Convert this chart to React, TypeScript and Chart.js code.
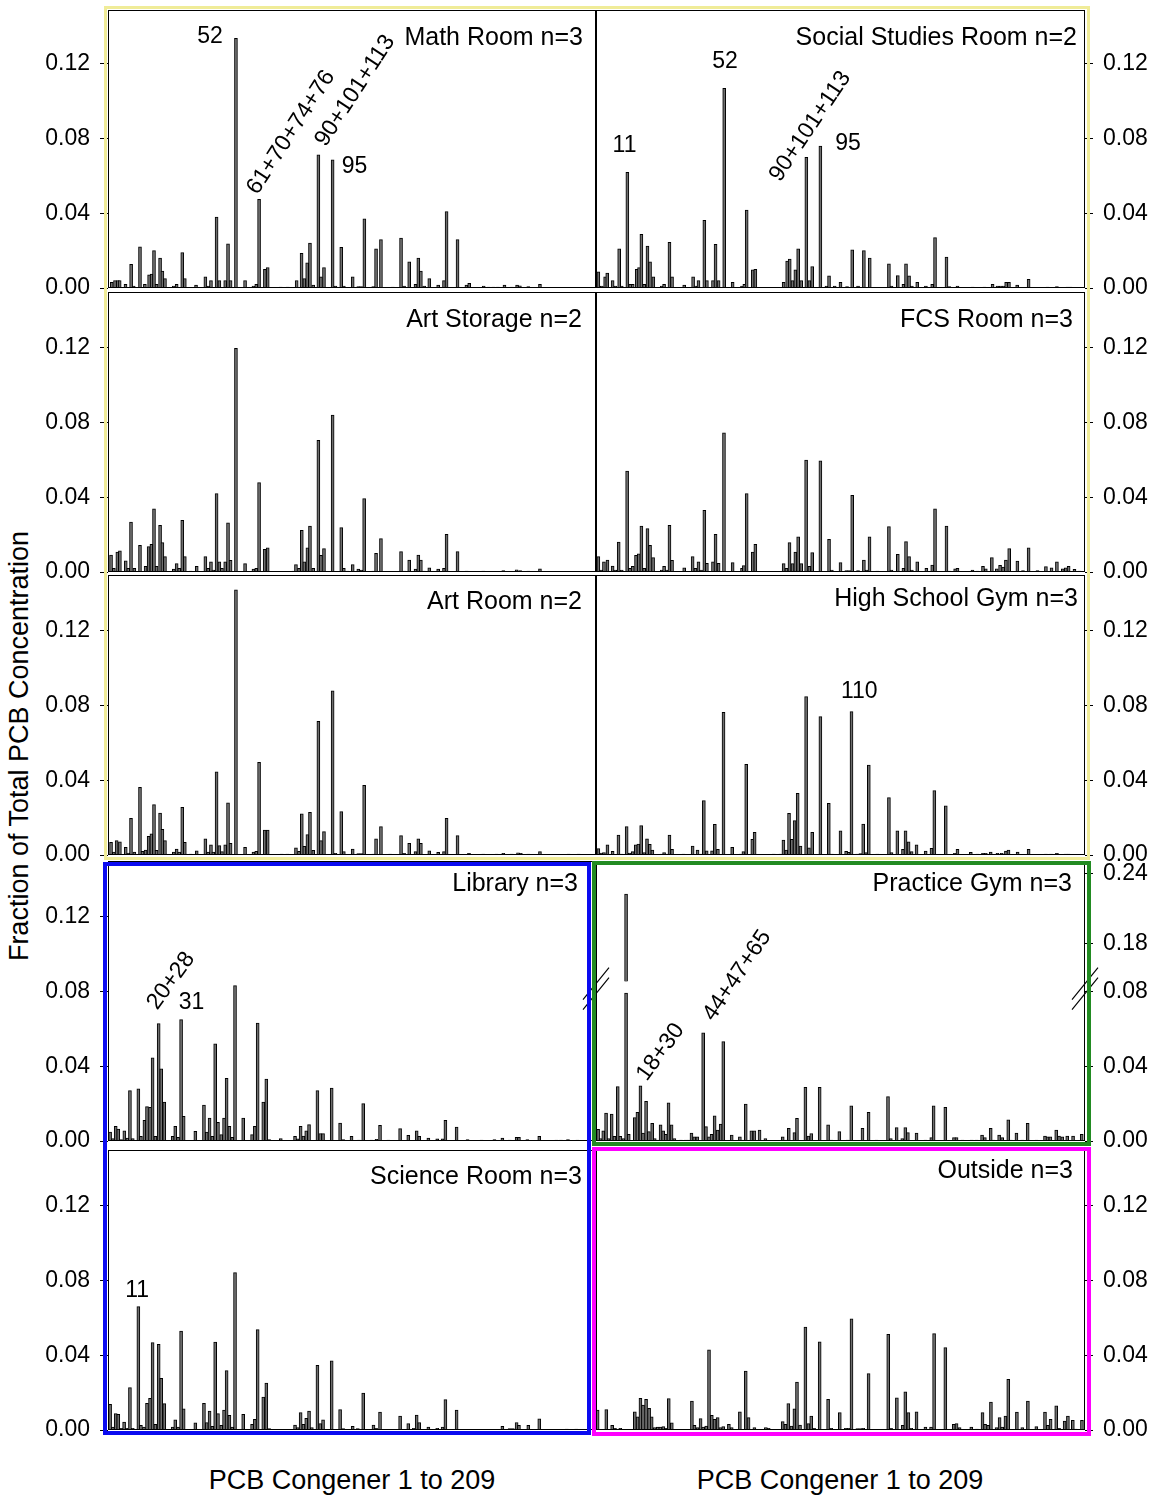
import React, { useEffect, useRef } from "react";
import { Chart, registerables } from "chart.js";

Chart.register(...registerables);

const FONT = '"Liberation Sans", Arial, Helvetica, sans-serif';
const CONGENER_SLOTS = 209;
const yTickValues = [0, 0.04, 0.08, 0.12];
const gymLowerTickValues = [0, 0.04, 0.08];
const gymUpperTickValues = [0.18, 0.24];
const xAxisTitle = "PCB Congener 1 to 209";
const yAxisTitle = "Fraction of Total PCB Concentration";

// [congener slot along the x axis, fraction of total PCB]
const mathRoom: [number, number][] = [
  [1.6, 0.003], [3, 0.004], [4.2, 0.004], [5, 0.004], [7.5, 0.002], [9.9, 0.0127], [11, 0.001], [13.7, 0.022], [15.8, 0.002],
  [17.6, 0.007], [18.7, 0.0075], [19.7, 0.02], [20.8, 0.002], [22.3, 0.016], [23.3, 0.009], [24.4, 0.005], [28.2, 0.001],
  [29.4, 0.002], [31.8, 0.019], [32.9, 0.005], [37.7, 0.0015], [41.7, 0.006], [43, 0.001], [44.1, 0.004], [46.5, 0.038],
  [47.7, 0.004], [50.2, 0.004], [51.4, 0.0236], [52.5, 0.004], [54.8, 0.1337], [58.7, 0.004], [62.3, 0.001], [63.5, 0.002],
  [64.7, 0.0475], [67.2, 0.01], [68.4, 0.011], [74, 0.0005], [77, 0.0005], [80.8, 0.004], [82.9, 0.0186], [84.1, 0.005],
  [85.3, 0.0135], [86.5, 0.024], [87.9, 0.0015], [90.1, 0.0713], [91.2, 0.006], [92.5, 0.011], [96.2, 0.0686], [97.4, 0.001],
  [99.9, 0.0218], [101, 0.001], [104.8, 0.006], [107.2, 0.0008], [108.4, 0.0008], [109.8, 0.037], [113.6, 0.0008],
  [114.8, 0.021], [116.9, 0.026], [122, 0.0005], [125.5, 0.0268], [126.8, 0.001], [129, 0.014], [131.7, 0.002], [132.9, 0.016],
  [134, 0.009], [135.4, 0.001], [137.6, 0.005], [141.4, 0.0015], [143.9, 0.004], [145, 0.041], [149.7, 0.026], [153.5, 0.0015],
  [154.7, 0.0025], [160.9, 0.001], [163, 0.0005], [165, 0.0005], [167, 0.0005], [169.8, 0.0015], [173, 0.0005], [175.2, 0.0015],
  [176.4, 0.0012], [180, 0.0008], [185, 0.002],
];

const socialStudiesRoom: [number, number][] = [
  [1, 0.0087], [2.5, 0.001], [3.9, 0.006], [4.8, 0.008], [7.1, 0.004], [8.3, 0.001], [9.9, 0.021], [11, 0.001], [13.4, 0.062],
  [14.6, 0.002], [15.7, 0.002], [17.4, 0.01], [18.4, 0.011], [19.4, 0.0288], [20.6, 0.002], [22, 0.0225], [23.1, 0.014],
  [24.5, 0.006], [28.1, 0.001], [29.1, 0.002], [31.4, 0.0245], [32.5, 0.006], [37.7, 0.0015], [41.5, 0.006], [42.5, 0.001],
  [43.8, 0.004], [46.3, 0.0363], [47.4, 0.004], [50, 0.004], [51.1, 0.0234], [52.4, 0.004], [54.8, 0.107], [58.4, 0.003],
  [62.4, 0.001], [63.4, 0.002], [64.4, 0.0418], [67, 0.0097], [68.1, 0.01], [80.2, 0.003], [81.7, 0.0144], [82.8, 0.0155],
  [84, 0.004], [85.2, 0.0097], [86.4, 0.021], [87.7, 0.004], [89.9, 0.07], [91.2, 0.004], [92.4, 0.0115], [95.9, 0.076],
  [98.5, 0.001], [99.6, 0.0065], [102, 0.001], [104.5, 0.003], [107.3, 0.0008], [109.5, 0.0204], [112, 0.001], [114.5, 0.02],
  [117, 0.016], [125.2, 0.013], [126.3, 0.001], [129, 0.0066], [131.4, 0.002], [132.5, 0.013], [133.8, 0.0065], [135, 0.001],
  [137.3, 0.003], [141, 0.001], [143.7, 0.002], [144.9, 0.027], [149.8, 0.0165], [151, 0.0008], [154.5, 0.001], [161, 0.0005],
  [166, 0.0005], [169.5, 0.002], [171.6, 0.001], [173, 0.001], [174.2, 0.001], [175.3, 0.003], [176.5, 0.003], [180, 0.0015],
  [184.9, 0.0047], [193, 0.0005], [197, 0.0008], [201.5, 0.0005], [202.8, 0.0005],
];

const artStorage: [number, number][] = [
  [1.3, 0.0091], [2.5, 0.002], [4, 0.0107], [5.1, 0.0113], [7.6, 0.006], [8.7, 0.002], [9.85, 0.0268], [11.3, 0.002],
  [13.7, 0.0143], [16.1, 0.003], [17.4, 0.0136], [18.6, 0.0148], [19.7, 0.0339], [20.8, 0.003], [22.3, 0.025], [23.3, 0.0157],
  [24.4, 0.0082], [28.2, 0.0015], [29.4, 0.0045], [30.5, 0.002], [31.8, 0.0277], [32.9, 0.0082], [35.4, 0.0005], [38, 0.003],
  [41.7, 0.0082], [42.9, 0.002], [44.1, 0.0054], [45.1, 0.001], [46.5, 0.042], [47.7, 0.0055], [48.8, 0.002], [50.2, 0.0054],
  [51.4, 0.0264], [52.5, 0.0063], [54.8, 0.1198], [58.7, 0.0045], [62.3, 0.0015], [63.5, 0.002], [64.7, 0.0479], [67.1, 0.0121],
  [68.4, 0.013], [79.4, 0.0005], [80.5, 0.004], [81.8, 0.002], [83, 0.0223], [84.1, 0.0055], [85.4, 0.013], [86.5, 0.0246],
  [87.9, 0.002], [90.1, 0.0705], [91.2, 0.0089], [92.5, 0.0125], [96.2, 0.0841], [99.9, 0.0238], [101, 0.002], [102.5, 0.0005],
  [104.8, 0.004], [107.2, 0.0015], [108.5, 0.001], [109.7, 0.0393], [113.6, 0.0005], [114.8, 0.01], [116.9, 0.0179],
  [125.5, 0.0109], [126.8, 0.0005], [129, 0.0064], [131.7, 0.0015], [132.9, 0.0091], [134, 0.0064], [135.3, 0.0005],
  [137.6, 0.0023], [141.4, 0.0015], [143.9, 0.002], [145, 0.0202], [149.7, 0.0109], [153.6, 0.0005], [160.7, 0.0005],
  [169.3, 0.0008], [175, 0.0012], [176.5, 0.0008], [180, 0.0005], [185, 0.0017],
];

const fcsRoom: [number, number][] = [
  [1, 0.0082], [2.2, 0.001], [3.4, 0.0055], [4.9, 0.0064], [7.1, 0.0032], [8.2, 0.001], [9.7, 0.016], [11, 0.001],
  [13.3, 0.0541], [14.5, 0.002], [15.7, 0.003], [17.1, 0.0089], [18.3, 0.0098], [19.4, 0.0246], [20.6, 0.002], [22, 0.0232],
  [23.1, 0.0143], [24.4, 0.0077], [28.1, 0.001], [29.1, 0.003], [30.2, 0.001], [31.4, 0.025], [32.5, 0.0063], [37.7, 0.0023],
  [41.3, 0.0082], [42.5, 0.002], [43.8, 0.0055], [44.9, 0.001], [46.3, 0.033], [47.4, 0.0046], [50, 0.0054], [51.1, 0.0202],
  [52.4, 0.0046], [54.7, 0.0746], [58.4, 0.005], [62.4, 0.002], [63.2, 0.0035], [64.4, 0.042], [67, 0.0107], [68.1, 0.0148],
  [80.2, 0.0045], [81.4, 0.002], [82.7, 0.0157], [84, 0.0045], [85.2, 0.0107], [86.4, 0.0189], [87.7, 0.0045], [89.8, 0.06],
  [91.2, 0.003], [92.4, 0.0104], [95.9, 0.0595], [99.6, 0.0175], [100.8, 0.001], [104.5, 0.005], [107, 0.0008], [108.2, 0.0008],
  [109.5, 0.0411], [112, 0.0008], [114.5, 0.0064], [115.7, 0.001], [116.9, 0.0189], [120.2, 0.0005], [125.2, 0.0243],
  [126.3, 0.001], [129, 0.0095], [131.4, 0.002], [132.5, 0.0163], [133.8, 0.0082], [135, 0.001], [137.3, 0.0054], [141.2, 0.002],
  [143.7, 0.0037], [144.9, 0.0339], [149.8, 0.0246], [151, 0.0005], [153.5, 0.0017], [154.5, 0.002], [160.9, 0.001],
  [163, 0.0005], [165.4, 0.003], [166.6, 0.0017], [169.2, 0.0077], [171.3, 0.0017], [172.7, 0.0036], [174, 0.0027],
  [175.2, 0.0064], [176.6, 0.0125], [180.1, 0.0059], [182.5, 0.0008], [184.9, 0.013], [188.7, 0.0008], [192.3, 0.0029],
  [194.7, 0.0023], [197, 0.0054], [199.5, 0.0017], [200.8, 0.0023], [202, 0.003], [204.5, 0.0014], [206.6, 0.0005],
];

const artRoom: [number, number][] = [
  [1.3, 0.0068], [2.5, 0.0015], [3.7, 0.0077], [5.1, 0.0071], [7.6, 0.0041], [8.7, 0.001], [9.85, 0.0196], [11.3, 0.0015],
  [13.7, 0.0363], [14.8, 0.002], [16.1, 0.0027], [17.4, 0.01], [18.6, 0.0113], [19.7, 0.027], [20.8, 0.0025], [22.3, 0.0225],
  [23.3, 0.0138], [24.4, 0.0077], [28.2, 0.0015], [29.4, 0.0032], [30.5, 0.0015], [31.8, 0.0255], [32.9, 0.0068],
  [35.4, 0.0005], [38, 0.0023], [41.7, 0.0086], [42.9, 0.0015], [44.1, 0.0054], [45.1, 0.0015], [46.5, 0.0446], [47.7, 0.005],
  [48.8, 0.0018], [50.2, 0.0054], [51.4, 0.028], [52.5, 0.0063], [54.8, 0.1421], [58.7, 0.0041], [62.3, 0.0015], [63.5, 0.002],
  [64.7, 0.0496], [67.1, 0.0134], [68.4, 0.0134], [74.4, 0.0005], [76.8, 0.0005], [80.5, 0.0038], [81.8, 0.002], [83, 0.022],
  [84.1, 0.0046], [85.4, 0.0109], [86.5, 0.0229], [87.9, 0.0025], [90.1, 0.0716], [91.2, 0.0077], [92.5, 0.0125],
  [96.2, 0.0879], [97.4, 0.0009], [99.9, 0.0232], [101, 0.0018], [104.8, 0.0032], [107.2, 0.0008], [108.5, 0.0008],
  [109.7, 0.0373], [113.6, 0.0005], [114.8, 0.0086], [116.9, 0.0152], [120.8, 0.0005], [125.5, 0.0104], [126.8, 0.0009],
  [129, 0.0063], [131.7, 0.0018], [132.9, 0.0086], [134, 0.0063], [137.6, 0.0023], [141.4, 0.0014], [143.9, 0.0018],
  [145, 0.0196], [149.7, 0.0104], [154.6, 0.0009], [160.7, 0.0005], [166.4, 0.0005], [169.3, 0.0009], [172.9, 0.0005],
  [175.6, 0.0012], [176.8, 0.0009], [180, 0.0005], [185, 0.0018], [197.3, 0.0005], [201.6, 0.0005],
];

const highSchoolGym: [number, number][] = [
  [1, 0.0034], [2.2, 0.001], [3.4, 0.0013], [4.9, 0.0054], [7.1, 0.002], [9.6, 0.0107], [10.8, 0.0005], [13.1, 0.0152],
  [14.4, 0.001], [15.7, 0.0018], [17, 0.0054], [18.1, 0.0059], [19.3, 0.0157], [20.6, 0.0013], [21.8, 0.0086], [23, 0.0057],
  [24.1, 0.0027], [28.1, 0.0005], [29.1, 0.0013], [30.2, 0.0005], [31.4, 0.0107], [32.5, 0.003], [37.4, 0.0005], [41.3, 0.0048],
  [43.4, 0.0027], [45, 0.0005], [46.1, 0.0291], [47.3, 0.0023], [49.6, 0.0023], [50.8, 0.0164], [52.1, 0.003], [54.5, 0.0764],
  [58.2, 0.0041], [61.9, 0.0005], [63, 0.0018], [64.2, 0.0486], [66.8, 0.0084], [67.8, 0.0121], [76, 0.0005], [78.8, 0.0005],
  [80.1, 0.008], [81.3, 0.0027], [82.5, 0.0223], [83.7, 0.0084], [84.9, 0.0184], [86.2, 0.033], [87.4, 0.0048], [89.8, 0.0848],
  [91, 0.0039], [92.4, 0.0121], [95.9, 0.0741], [99.5, 0.0277], [100.8, 0.0005], [104.5, 0.0129], [106.9, 0.002], [108, 0.0014],
  [109.2, 0.0768], [111.6, 0.0005], [113, 0.0008], [114.2, 0.0166], [115.4, 0.0013], [116.6, 0.0482], [120.2, 0.0005],
  [125.2, 0.0307], [126.3, 0.0013], [128.8, 0.013], [131.2, 0.003], [132.3, 0.0129], [133.6, 0.0071], [134.9, 0.0018],
  [137, 0.0054], [140.9, 0.0021], [143.4, 0.0036], [144.6, 0.0345], [149.5, 0.0264], [153.4, 0.0009], [154.5, 0.003],
  [160.2, 0.0014], [163, 0.0005], [165.4, 0.0009], [166.6, 0.0009], [168.7, 0.0016], [171.6, 0.0009], [173.4, 0.0009],
  [175.2, 0.0021], [176.3, 0.0027], [180.2, 0.0016], [184.9, 0.003], [192.3, 0.0005], [194.5, 0.0005], [197, 0.0009],
  [200.8, 0.0005], [202, 0.0005],
];

const library: [number, number][] = [
  [0.9, 0.0048], [2.1, 0.0013], [3.3, 0.0079], [4.4, 0.0064], [5.6, 0.0007], [7, 0.0055], [8.3, 0.0016], [9.4, 0.027],
  [10.6, 0.0013], [13, 0.0279], [14.1, 0.0025], [15.6, 0.0111], [16.7, 0.0184], [18, 0.018], [19.1, 0.0445], [20.3, 0.0025],
  [21.7, 0.0629], [22.8, 0.0386], [24.1, 0.0209], [27.7, 0.0025], [28.8, 0.0079], [30, 0.002], [31.3, 0.065], [32.4, 0.0132],
  [37.4, 0.0052], [41.1, 0.0193], [42.3, 0.0048], [43.5, 0.0123], [44.7, 0.0025], [45.9, 0.052], [47.1, 0.01], [48.5, 0.0034],
  [49.7, 0.0123], [50.8, 0.0336], [52, 0.0079], [53.2, 0.002], [54.4, 0.0832], [57.9, 0.0123], [61.7, 0.0034], [62.9, 0.0079],
  [64.1, 0.0632], [66.5, 0.0209], [67.8, 0.0332], [69, 0.0007], [74, 0.0013], [80.1, 0.0025], [81.3, 0.0011], [82.5, 0.0079],
  [83.7, 0.0027], [84.9, 0.0055], [86.1, 0.0088], [89.7, 0.027], [90.9, 0.004], [92.1, 0.004], [95.8, 0.0284], [99.4, 0.0096],
  [100.7, 0.0007], [104.3, 0.0025], [107.5, 0.0005], [109.3, 0.02], [112.9, 0.0005], [115, 0.0009], [116.5, 0.0084],
  [120.1, 0.0005], [125.1, 0.0066], [128.6, 0.003], [132.2, 0.0055], [133.3, 0.0025], [137.2, 0.0016], [141, 0.0011],
  [143.3, 0.0011], [144.5, 0.0111], [149.3, 0.0075], [154, 0.0007], [160, 0.0005], [165.5, 0.0007], [168.9, 0.0016],
  [172.1, 0.0005], [175, 0.0019], [176, 0.0019], [179.6, 0.0007], [184.7, 0.0025], [192, 0.0005], [194, 0.0005], [197, 0.0007],
  [201, 0.0005],
];

const practiceGym: [number, number][] = [
  [0.9, 0.0063], [2, 0.0013], [3.1, 0.0054], [4.3, 0.015], [5.4, 0.0013], [6.7, 0.0144], [7.9, 0.0025], [9.3, 0.0292],
  [10.4, 0.0025], [11.7, 0.0013], [12.85, 0.0793], [14, 0.0036], [16.6, 0.0126], [17.7, 0.0153], [19, 0.0295], [20.1, 0.0043],
  [21.4, 0.0213], [22.6, 0.005], [24, 0.0094], [25.1, 0.0013], [26.3, 0.0005], [27.6, 0.0086], [28.7, 0.0054], [29.8, 0.0036],
  [31, 0.0204], [32.3, 0.0086], [33.5, 0.0013], [36.3, 0.0005], [38.4, 0.0005], [39.7, 0.0005], [40.8, 0.0043], [42, 0.0023],
  [43.3, 0.0022], [45.8, 0.058], [47, 0.0077], [48.3, 0.0022], [49.4, 0.0036], [50.7, 0.0135], [52, 0.0058], [53.3, 0.009],
  [54.4, 0.0532], [58, 0.0032], [61.5, 0.0022], [62.8, 0.0005], [64, 0.0198], [66.4, 0.0054], [67.7, 0.0054], [69.9, 0.0058],
  [72.4, 0.0013], [79.8, 0.0022], [81.2, 0.0005], [82.4, 0.0068], [84.8, 0.0045], [85.9, 0.0121], [89.5, 0.0288],
  [90.8, 0.0027], [92, 0.004], [95.6, 0.0288], [99.2, 0.0086], [100.5, 0.0005], [104, 0.005], [107.6, 0.0005], [109.1, 0.0189],
  [113.9, 0.0068], [116.5, 0.0153], [119.9, 0.0005], [124.8, 0.0238], [126, 0.0013], [128.5, 0.0072], [130.9, 0.0013],
  [132.2, 0.0072], [133.3, 0.0045], [137, 0.0043], [140.8, 0.0005], [143.3, 0.0018], [144.3, 0.0189], [149.3, 0.018],
  [153, 0.0018], [154.1, 0.0018], [156.6, 0.0005], [160.6, 0.0005], [162.7, 0.0005], [165, 0.0032], [166.2, 0.0018],
  [168.7, 0.0068], [169.9, 0.0005], [172.3, 0.0032], [173.6, 0.0018], [176.2, 0.0114], [177.3, 0.0005], [179.7, 0.0043],
  [182.2, 0.0005], [184.5, 0.0095], [188.3, 0.0005], [191.9, 0.0027], [193, 0.0022], [194.2, 0.0022], [196.7, 0.0058],
  [197.9, 0.0027], [199.3, 0.0022], [201.4, 0.0027], [203.9, 0.0027], [207.6, 0.0036],
];

// part of the congener 11 bar above the axis break: [slot, from, to]
const practiceGymAboveBreak: [number, number, number][] = [[12.85, 0.147, 0.222]];

const scienceRoom: [number, number][] = [
  [0.9, 0.0138], [2.1, 0.0016], [3.3, 0.0088], [4.4, 0.0084], [5.6, 0.0009], [6.9, 0.0043], [8, 0.0009], [9.4, 0.0227],
  [10.6, 0.0009], [13, 0.0661], [14.1, 0.0025], [15.4, 0.0016], [16.7, 0.0143], [18, 0.017], [19.1, 0.0468], [20.3, 0.003],
  [21.7, 0.0459], [22.8, 0.0277], [24.1, 0.0141], [27.7, 0.0016], [28.8, 0.0054], [30, 0.0016], [31.3, 0.053], [32.4, 0.0114],
  [37.4, 0.0039], [41.1, 0.0143], [42.3, 0.004], [43.5, 0.0102], [44.7, 0.002], [45.9, 0.0471], [47.1, 0.0088], [48.5, 0.0025],
  [49.7, 0.0107], [50.8, 0.0318], [52, 0.0079], [53.2, 0.0016], [54.4, 0.0843], [57.9, 0.0084], [61.7, 0.003], [62.9, 0.0057],
  [64.1, 0.0538], [66.5, 0.0177], [67.8, 0.0252], [69, 0.0007], [80.1, 0.0027], [81.3, 0.0013], [82.5, 0.0093], [83.7, 0.003],
  [84.9, 0.0063], [86.1, 0.0102], [87.3, 0.0013], [89.7, 0.0346], [90.9, 0.0034], [92.1, 0.0055], [95.8, 0.037],
  [99.4, 0.0109], [100.7, 0.0007], [104.8, 0.002], [107, 0.0007], [109.3, 0.0198], [113.7, 0.0027], [114.8, 0.0009],
  [116.5, 0.0096], [125.1, 0.0075], [128.6, 0.0034], [131, 0.0009], [132.2, 0.008], [133.3, 0.004], [137.2, 0.0016],
  [141, 0.0009], [143.3, 0.0016], [144.5, 0.0163], [149.3, 0.0107], [154, 0.0004], [168.9, 0.002], [172, 0.0007],
  [173.4, 0.0007], [175, 0.004], [176, 0.0025], [180, 0.0025], [184.7, 0.006], [196.5, 0.0005], [200.5, 0.0005],
];

const outside: [number, number][] = [
  [0.7, 0.0107], [4.4, 0.011], [6.9, 0.0025], [8.1, 0.0009], [10.4, 0.0009], [11.6, 0.0004], [16.6, 0.0098], [17.8, 0.0071],
  [19, 0.017], [20.1, 0.0134], [21.4, 0.0164], [22.7, 0.0116], [23.8, 0.0071], [25.1, 0.0013], [26.4, 0.0016], [27.5, 0.0016],
  [28.8, 0.0018], [29.9, 0.0009], [31.1, 0.0168], [32.4, 0.0039], [41, 0.0155], [42.1, 0.0025], [43.4, 0.0013], [44.7, 0.0061],
  [45.8, 0.0016], [47.1, 0.0021], [48.3, 0.043], [49.5, 0.0079], [50.7, 0.0057], [52, 0.0066], [53.2, 0.0013], [54.4, 0.0018],
  [56.8, 0.003], [58, 0.0013], [61.5, 0.0098], [64, 0.0316], [65.2, 0.0066], [67.7, 0.0013], [72.6, 0.0013], [73.8, 0.0009],
  [79.8, 0.0045], [81, 0.0031], [82.2, 0.0141], [83.5, 0.0021], [84.8, 0.0114], [85.9, 0.0257], [87.2, 0.0027], [89.5, 0.0552],
  [90.8, 0.0034], [92, 0.0075], [93.2, 0.0009], [95.6, 0.0473], [99.2, 0.0164], [100.5, 0.0009], [104.2, 0.0093],
  [106.8, 0.0009], [108, 0.0009], [109.2, 0.0596], [111.7, 0.0007], [113, 0.0007], [114.2, 0.0009], [116.5, 0.0302],
  [120, 0.0004], [124.9, 0.0513], [126.1, 0.0009], [128.6, 0.0173], [131.1, 0.0025], [132.2, 0.0204], [133.5, 0.0093],
  [134.7, 0.0009], [137, 0.0098], [140.8, 0.0016], [143.2, 0.0016], [144.5, 0.0516], [149.3, 0.0441], [152.9, 0.003],
  [154.1, 0.0034], [155.4, 0.0013], [160.4, 0.0016], [162.8, 0.0005], [165.2, 0.0093], [166.3, 0.003], [167.6, 0.0025],
  [168.8, 0.015], [171.2, 0.0013], [172.5, 0.0066], [173.6, 0.0016], [175, 0.0075], [176.2, 0.0271], [179.9, 0.0096],
  [182.2, 0.0013], [184.6, 0.0155], [188.2, 0.0018], [191.9, 0.0096], [193.1, 0.0025], [194.3, 0.0057], [196.7, 0.0129],
  [197.9, 0.0009], [200.3, 0.0048], [201.7, 0.0075], [203.8, 0.0052], [205, 0.0005], [207.7, 0.0052],
];

type Label = { text: string; slot: number; value: number; angle?: number };

type PanelSpec = {
  title: string;
  data: [number, number][];
  broken?: [number, number, number][];
  col: number;
  row: number;
  titleBaseline: number;
  titleInset: number;
  labels: Label[];
};

const panels: PanelSpec[] = [
  {
    title: "Math Room n=3", data: mathRoom, col: 0, row: 0, titleBaseline: 35, titleInset: 13,
    labels: [
      { text: "52", slot: 43.7, value: 0.1312 },
      { text: "61+70+74+76", slot: 64, value: 0.0495, angle: 57 },
      { text: "90+101+113", slot: 93.3, value: 0.0752, angle: 57 },
      { text: "95", slot: 105.6, value: 0.0614 },
    ],
  },
  {
    title: "Social Studies Room n=2", data: socialStudiesRoom, col: 1, row: 0, titleBaseline: 35, titleInset: 8,
    labels: [
      { text: "11", slot: 12.2, value: 0.073 },
      { text: "52", slot: 55.1, value: 0.1177 },
      { text: "90+101+113", slot: 78.6, value: 0.0564, angle: 56 },
      { text: "95", slot: 107.7, value: 0.0739 },
    ],
  },
  { title: "Art Storage n=2", data: artStorage, col: 0, row: 1, titleBaseline: 35, titleInset: 14, labels: [] },
  { title: "FCS Room n=3", data: fcsRoom, col: 1, row: 1, titleBaseline: 35, titleInset: 12, labels: [] },
  { title: "Art Room n=2", data: artRoom, col: 0, row: 2, titleBaseline: 34, titleInset: 14, labels: [] },
  {
    title: "High School Gym n=3", data: highSchoolGym, col: 1, row: 2, titleBaseline: 31, titleInset: 7,
    labels: [{ text: "110", slot: 112.5, value: 0.0841 }],
  },
  {
    title: "Library n=3", data: library, col: 0, row: 3, titleBaseline: 30, titleInset: 18,
    labels: [
      { text: "20+28", slot: 21.1, value: 0.0698, angle: 54 },
      { text: "31", slot: 35.8, value: 0.0709 },
    ],
  },
  {
    title: "Practice Gym n=3", data: practiceGym, broken: practiceGymAboveBreak, col: 1, row: 3, titleBaseline: 30, titleInset: 13,
    labels: [
      { text: "18+30", slot: 21.7, value: 0.0316, angle: 54 },
      { text: "44+47+65", slot: 50.2, value: 0.0637, angle: 56 },
    ],
  },
  {
    title: "Science Room n=3", data: scienceRoom, col: 0, row: 4, titleBaseline: 34, titleInset: 14,
    labels: [{ text: "11", slot: 12.5, value: 0.0714 }],
  },
  { title: "Outside n=3", data: outside, col: 1, row: 4, titleBaseline: 28, titleInset: 12, labels: [] },
];

// ---- layout (page pixels) ----
const PX_PER_UNIT = 1866.7;
const GYM_UP_MIN = 0.0103;
const GYM_UP_MAX = 0.2503;
const PAD_V = 28;
const TICK_LEN = 8;
const TICK_PAD = 10;
const TICK_FONT_SIZE = 23;
const COLS = [
  { plotLeft: 108, plotRight: 596, canvasLeft: 0, canvasWidth: 600 },
  { plotLeft: 596, plotRight: 1085, canvasLeft: 576, canvasWidth: 580 },
];
const ROWS = [
  { top: 10, bottom: 288 },
  { top: 292, bottom: 572 },
  { top: 575, bottom: 855 },
  { top: 861, bottom: 1141 },
  { top: 1150, bottom: 1430 },
];

function makeDecor(spec: PanelSpec) {
  return {
    id: "decor",
    afterDatasetsDraw(chart: any) {
      const { ctx, chartArea: a, scales } = chart;
      const xs = scales.x;
      const ys = scales.y;
      ctx.save();
      ctx.strokeStyle = "#000";
      ctx.lineWidth = 1;
      const l = Math.round(a.left), t = Math.round(a.top), r = Math.round(a.right), b = Math.round(a.bottom);
      ctx.strokeRect(l + 0.5, t + 0.5, r - l - 1, b - t - 1);

      ctx.fillStyle = "#000";
      ctx.font = `25px ${FONT}`;
      ctx.textAlign = "right";
      ctx.textBaseline = "alphabetic";
      ctx.fillText(spec.title, a.right - spec.titleInset, a.top + spec.titleBaseline);

      ctx.font = `23px ${FONT}`;
      for (const lab of spec.labels) {
        const px = xs.getPixelForValue(lab.slot);
        const py = ys.getPixelForValue(lab.value);
        ctx.save();
        ctx.translate(px, py);
        if (lab.angle) {
          ctx.rotate((-lab.angle * Math.PI) / 180);
          ctx.textAlign = "left";
        } else {
          ctx.textAlign = "center";
        }
        ctx.fillText(lab.text, 0, 0);
        ctx.restore();
      }

      if (spec.broken && scales.yUp) {
        const up = scales.yUp;
        // ticks and labels of the upper (broken) part of the right axis
        ctx.font = `${TICK_FONT_SIZE}px ${FONT}`;
        ctx.textAlign = "left";
        ctx.textBaseline = "middle";
        for (const v of gymUpperTickValues) {
          const py = Math.round(up.getPixelForValue(v)) + 0.5;
          ctx.beginPath();
          ctx.moveTo(a.right, py);
          ctx.lineTo(a.right + TICK_LEN, py);
          ctx.stroke();
          ctx.fillText(v.toFixed(2), a.right + TICK_LEN + TICK_PAD, py);
        }
        const yLow = ys.getPixelForValue(gymLowerTickValues[gymLowerTickValues.length - 1]);
        const yHigh = up.getPixelForValue(spec.broken[0][1]);
        const cy = (yLow + yHigh) / 2 + 2;
        ctx.lineWidth = 1.2;
        for (const bx of [a.left, a.right]) {
          for (const off of [-5, 5]) {
            ctx.beginPath();
            ctx.moveTo(bx - 13, cy + 16 + off);
            ctx.lineTo(bx + 13, cy - 16 + off);
            ctx.stroke();
          }
        }
      }
      ctx.restore();
    },
  };
}

function Panel({ spec }: { spec: PanelSpec }) {
  const ref = useRef<HTMLCanvasElement | null>(null);
  const col = COLS[spec.col];
  const row = ROWS[spec.row];
  const isLeft = spec.col === 0;
  const canvasTop = row.top - PAD_V;
  const canvasHeight = row.bottom - row.top + 2 * PAD_V;

  useEffect(() => {
    const canvas = ref.current;
    if (!canvas) return;
    const yMax = (row.bottom - row.top) / PX_PER_UNIT;
    const tickStyle = {
      color: "#000",
      font: { family: FONT, size: TICK_FONT_SIZE },
      padding: TICK_PAD,
      autoSkip: false,
      callback: (v: any) => Number(v).toFixed(2),
    };
    const gridStyle = { display: true, drawOnChartArea: false, drawTicks: true, tickLength: TICK_LEN, color: "#000", lineWidth: 1 };
    const barStyle = {
      backgroundColor: "#6e6e6e",
      borderColor: "#000000",
      borderWidth: 1,
      barThickness: 3,
      grouped: false,
      borderSkipped: "start",
    };
    const axisWidth = isLeft ? col.plotLeft - col.canvasLeft : col.canvasLeft + col.canvasWidth - col.plotRight;
    const datasets: any[] = [
      { ...barStyle, data: spec.data.map(([x, y]) => ({ x, y })), yAxisID: "y" },
    ];
    const scales: any = {
      x: { type: "linear", min: 0, max: CONGENER_SLOTS, display: false, offset: false },
      y: {
        type: "linear",
        position: isLeft ? "left" : "right",
        min: 0,
        max: yMax,
        afterBuildTicks: (s: any) => {
          s.ticks = (spec.broken ? gymLowerTickValues : yTickValues).map((v) => ({ value: v }));
        },
        afterFit: (s: any) => {
          s.width = axisWidth;
        },
        ticks: tickStyle,
        grid: gridStyle,
        border: { display: false },
      },
    };
    if (spec.broken) {
      datasets.push({
        ...barStyle,
        data: spec.broken.map(([x, from, to]) => ({ x, y: [from, to] })),
        yAxisID: "yUp",
      });
      scales.yUp = { type: "linear", position: "right", min: GYM_UP_MIN, max: GYM_UP_MAX, display: false };
    }
    const chart = new Chart(canvas, {
      type: "bar",
      data: { datasets },
      options: {
        responsive: false,
        maintainAspectRatio: false,
        animation: false,
        devicePixelRatio: 1,
        layout: {
          padding: {
            left: isLeft ? 0 : col.plotLeft - col.canvasLeft,
            right: isLeft ? col.canvasLeft + col.canvasWidth - col.plotRight : 0,
            top: PAD_V,
            bottom: PAD_V,
          },
        },
        plugins: { legend: { display: false }, tooltip: { enabled: false } },
        scales,
      } as any,
      plugins: [makeDecor(spec)],
    });
    return () => chart.destroy();
  }, []);

  return (
    <canvas
      ref={ref}
      width={col.canvasWidth}
      height={canvasHeight}
      style={{
        position: "absolute",
        left: col.canvasLeft,
        top: canvasTop,
        width: col.canvasWidth,
        height: canvasHeight,
        zIndex: 1,
      }}
    />
  );
}

const frames = [
  { left: 104, top: 6, width: 986, height: 854, border: 3, color: "#f0ec98" },
  { left: 103, top: 862, width: 488, height: 573, border: 4, color: "#0a0af0" },
  { left: 592, top: 861, width: 499, height: 285, border: 4, color: "#228b22" },
  { left: 592, top: 1147, width: 499, height: 289, border: 4, color: "#ff00ff" },
];

export default function App() {
  return (
    <div
      style={{
        position: "absolute",
        left: 0,
        top: 0,
        width: 1156,
        height: 1500,
        background: "#ffffff",
        overflow: "hidden",
        fontFamily: FONT,
      }}
    >
      {panels.map((p) => (
        <Panel key={p.title} spec={p} />
      ))}
      {frames.map((f, i) => (
        <div
          key={i}
          style={{
            position: "absolute",
            left: f.left,
            top: f.top,
            width: f.width,
            height: f.height,
            boxSizing: "border-box",
            border: `${f.border}px solid ${f.color}`,
            zIndex: 2,
            pointerEvents: "none",
          }}
        />
      ))}
      <div
        style={{
          position: "absolute",
          left: 19,
          top: 746,
          transform: "translate(-50%, -50%) rotate(-90deg)",
          whiteSpace: "nowrap",
          fontSize: 27,
          color: "#000",
          lineHeight: 1,
        }}
      >
        {yAxisTitle}
      </div>
      {[352, 840].map((cx) => (
        <div
          key={cx}
          style={{
            position: "absolute",
            left: cx,
            top: 1480,
            transform: "translate(-50%, -50%)",
            whiteSpace: "nowrap",
            fontSize: 27,
            color: "#000",
            lineHeight: 1,
          }}
        >
          {xAxisTitle}
        </div>
      ))}
    </div>
  );
}
